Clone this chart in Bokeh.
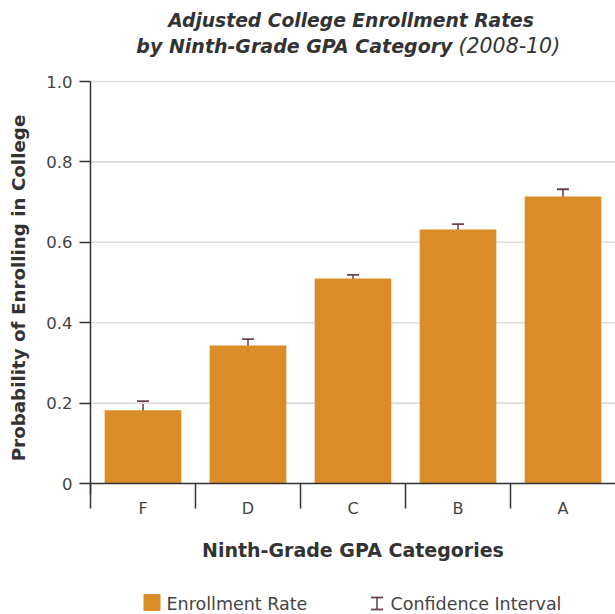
from bokeh.plotting import figure
from bokeh.models import FixedTicker, Whisker, ColumnDataSource, TeeHead, Range1d
from bokeh.core.properties import value
from bokeh.embed import file_html
from bokeh.resources import INLINE

categories = ["F", "D", "C", "B", "A"]
rates = [0.182, 0.343, 0.510, 0.632, 0.714]
ci_low = [0.163, 0.332, 0.503, 0.627, 0.701]
ci_high = [0.205, 0.359, 0.519, 0.645, 0.732]
y_ticks = [0, 0.2, 0.4, 0.6, 0.8, 1.0]

FONT = "DejaVu Sans"
BAR = "#D98C28"
CI = "#6b4453"
TXT = "#333333"
LBL = "#444444"

W, H = 615, 614
# frame geometry (pixels): plot area left, zero line, category width, unit height
LEFT, ZERO, CATW, UNITH = 90, 483, 105.0, 402.0

def px_x(px):
    return -0.5 + (px - LEFT) / CATW

def py_y(py):
    return (ZERO - py) / UNITH

x = list(range(len(categories)))
src = ColumnDataSource(dict(x=x, rate=rates, lo=ci_low, hi=ci_high))

p = figure(width=W, height=H,
           x_range=Range1d(px_x(0), px_x(W)), y_range=Range1d(py_y(H), py_y(0)),
           output_backend="svg", toolbar_location=None,
           min_border_left=0, min_border_right=0, min_border_top=0, min_border_bottom=0)
p.outline_line_color = None
p.xgrid.visible = False
p.ygrid.visible = False

# horizontal gridlines (within the category extent)
gx0 = [-0.5] * (len(y_ticks) - 1)
gx1 = [len(categories) - 0.5] * (len(y_ticks) - 1)
p.segment(x0=gx0, x1=gx1, y0=y_ticks[1:], y1=y_ticks[1:], line_color="#dddddd", line_width=1.6)

p.vbar(x="x", top="rate", bottom=0, width=0.73, source=src, fill_color=BAR, line_color=None)

def whisker(source, base, lower, upper):
    w = Whisker(base=base, lower=lower, upper=upper, source=source, line_color=CI, line_width=1.6,
                upper_head=TeeHead(size=12, line_color=CI, line_width=1.8),
                lower_head=TeeHead(size=12, line_color=CI, line_width=1.8))
    p.add_layout(w)

whisker(src, "x", "lo", "hi")

# x axis
xa = p.xaxis[0]
xa.fixed_location = 0
xa.bounds = (-0.5, len(categories) - 0.5)
xa.ticker = FixedTicker(ticks=x, minor_ticks=[i - 0.5 for i in x])
xa.major_label_overrides = {i: c for i, c in zip(x, categories)}
xa.major_tick_line_color = None
xa.major_tick_out = 0
xa.minor_tick_out = 25
xa.minor_tick_in = 0
xa.minor_tick_line_color = TXT
xa.minor_tick_line_width = 1.5
xa.axis_line_color = TXT
xa.axis_line_width = 1.5
xa.major_label_standoff = -10
xa.major_label_text_font = FONT
xa.major_label_text_font_size = "16px"
xa.major_label_text_color = LBL
xa.axis_label = "Ninth-Grade GPA Categories"
xa.axis_label_text_font = FONT
xa.axis_label_text_font_style = "bold"
xa.axis_label_text_font_size = "19px"
xa.axis_label_text_color = TXT
xa.axis_label_standoff = 18

# y axis
ya = p.yaxis[0]
ya.fixed_location = -0.5
ya.bounds = (py_y(494), 1.0)
ya.ticker = FixedTicker(ticks=y_ticks)
ya.major_label_overrides = {0: "0", 1: "1.0"}
ya.minor_tick_line_color = None
ya.major_tick_out = 11
ya.major_tick_in = 0
ya.major_tick_line_color = TXT
ya.major_tick_line_width = 1.5
ya.axis_line_color = TXT
ya.axis_line_width = 1.5
ya.major_label_standoff = 7
ya.major_label_text_font = FONT
ya.major_label_text_font_size = "16.5px"
ya.major_label_text_color = LBL
ya.axis_label = "Probability of Enrolling in College"
ya.axis_label_text_font = FONT
ya.axis_label_text_font_style = "bold"
ya.axis_label_text_font_size = "18.3px"
ya.axis_label_text_color = TXT
ya.axis_label_standoff = 14

def txt(text, px, py, align="center", style="bold italic", size="18px", color=TXT, font=FONT):
    p.text(x=[px_x(px)], y=[py_y(py)], text=[text], text_align=align, text_baseline="middle",
           text_font=value(font), text_font_style=style, text_font_size=size, text_color=color)

# title
txt("Adjusted College Enrollment Rates", 350.5, 20, size="18.7px")
txt("by Ninth-Grade GPA Category", 452, 45, align="right", size="19px")
txt("(2008-10)", 458, 45, align="left", style="italic", size="20.5px")

# legend
p.scatter(x=[px_x(151.5)], y=[py_y(602)], marker="square", size=17, fill_color=BAR, line_color=None)
txt("Enrollment Rate", 166, 603, align="left", style="normal", size="17.5px", color=LBL)
leg_src = ColumnDataSource(dict(b=[px_x(376.5)], lo=[py_y(609)], hi=[py_y(597)]))
whisker(leg_src, "b", "lo", "hi")
txt("Confidence Interval", 390, 603, align="left", style="normal", size="17.5px", color=LBL)

open("out.html", "w").write(file_html(p, INLINE))
